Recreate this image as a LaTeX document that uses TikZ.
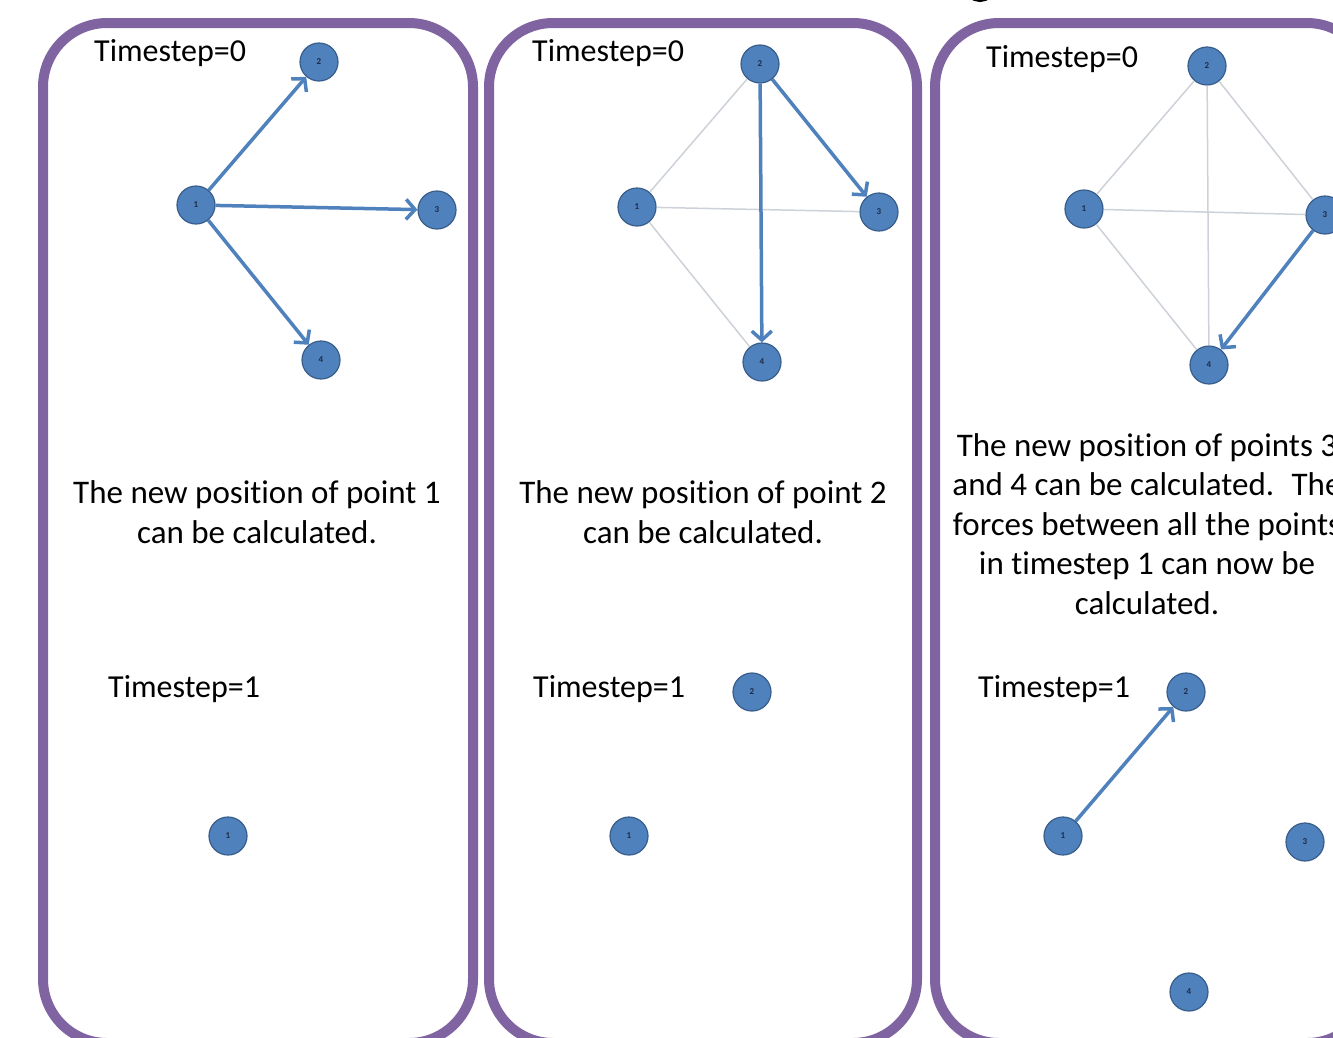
\documentclass[tikz,border=0pt]{standalone}
\usepackage{fontspec}
\setmainfont{Carlito}[Ligatures={NoCommon}]
\usetikzlibrary{arrows.meta}
\definecolor{panelpurple}{HTML}{8064A2}
\definecolor{nodeblue}{HTML}{4F81BD}
\definecolor{nodeedge}{HTML}{385D8A}
\definecolor{linkgray}{HTML}{CDD2D8}
\definecolor{numink}{HTML}{1F2A44}
\begin{document}
\begin{tikzpicture}[x=1pt,y=-1pt,
  panel/.style={draw=panelpurple,line width=10pt,rounded corners=64pt},
  pt/.style={circle,fill=nodeblue,draw=nodeedge,line width=1.2pt,minimum size=38pt,
    inner sep=0pt,font=\fontsize{9}{9}\selectfont\bfseries,text=numink},
  force/.style={draw=nodeblue,line width=3.5pt,
    -{Straight Barb[length=9pt,width=20pt]}},
  link/.style={draw=linkgray,line width=1.5pt},
  stamp/.style={anchor=base west,inner sep=0pt,font=\fontsize{32}{38}\selectfont},
  note/.style={anchor=base,inner sep=0pt,align=center,font=\fontsize{33}{39.5}\selectfont}]
\useasboundingbox (0,0) rectangle (1333,1037);
\fill[white] (0,0) rectangle (1333,1037);

% fragment of a heading letter above the panels
\draw[black,line width=6pt] (980,-14) ellipse (13 and 13);

% the three frames
\draw[panel] (43,23) rectangle (473,1043);
\draw[panel] (489,23) rectangle (917,1043);
\draw[panel] (935,23) rectangle (1371,1043);

% ---- frame 1 ----
\node[stamp] (ta0) at (94,61) {Timestep=0};
\node[pt] (a1) at (196,205) {1};
\node[pt] (a2) at (319,62) {2};
\node[pt] (a3) at (437,210) {3};
\node[pt] (a4) at (321,360) {4};
\draw[force] (a1) -- (a2);
\draw[force] (a1) -- (a3);
\draw[force] (a1) -- (a4);
% anchor=base sits on the last line of a multi-line note
\node[note] (na) at (257,543) {The new position of point 1\\can be calculated.};
\node[stamp] (ta1) at (108,697) {Timestep=1};
\node[pt] (b1) at (228,836) {1};

% ---- frame 2 ----
\node[stamp] (tc0) at (532,61) {Timestep=0};
\node[pt] (c1) at (637,207) {1};
\node[pt] (c2) at (760,64) {2};
\node[pt] (c3) at (879,212) {3};
\node[pt] (c4) at (762,362) {4};
\draw[link] (c1) -- (c2);
\draw[link] (c1) -- (c3);
\draw[link] (c1) -- (c4);
\draw[force] (c2) -- (c3);
\draw[force] (c2) -- (c4);
\node[note] (nc) at (703,543) {The new position of point 2\\can be calculated.};
\node[stamp] (tc1) at (533,697) {Timestep=1};
\node[pt] (d1) at (629,836) {1};
\node[pt] (d2) at (752,692) {2};

% ---- frame 3 ----
\node[stamp] (te0) at (986,67) {Timestep=0};
\node[pt] (e1) at (1084,209) {1};
\node[pt] (e2) at (1207,66) {2};
\node[pt] (e3) at (1325,215) {3};
\node[pt] (e4) at (1209,365) {4};
\draw[link] (e1) -- (e2);
\draw[link] (e1) -- (e3);
\draw[link] (e1) -- (e4);
\draw[link] (e2) -- (e3);
\draw[link] (e2) -- (e4);
\draw[force] (e3) -- (e4);
\node[note] (ne) at (1147,614) {The new position of points 3\\and 4 can be calculated.~ The\\forces between all the points\\in timestep 1 can now be\\calculated.};
\node[stamp] (te1) at (978,697) {Timestep=1};
\node[pt] (f1) at (1063,836) {1};
\node[pt] (f2) at (1186,692) {2};
\node[pt] (f3) at (1305,842) {3};
\node[pt] (f4) at (1189,992) {4};
\draw[force] (f1) -- (f2);
\end{tikzpicture}
\end{document}
